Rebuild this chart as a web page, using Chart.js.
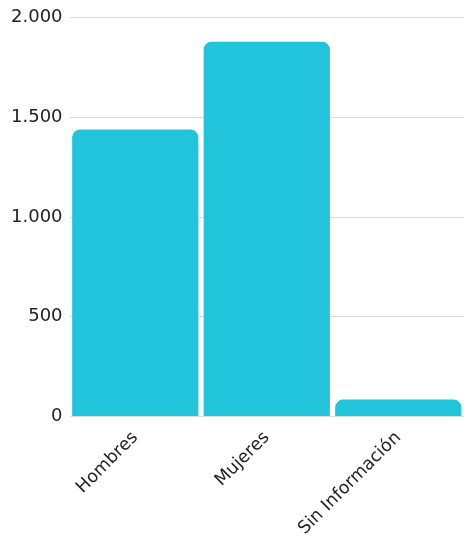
<!DOCTYPE html>
<html>
<head>
<meta charset="utf-8">
<script src="https://cdn.jsdelivr.net/npm/chart.js@4"></script>
<style>
  html, body { margin: 0; padding: 0; background: #fff; }
  #wrap { width: 464px; height: 542px; }
</style>
</head>
<body>
<div id="wrap"><canvas id="grafico"></canvas></div>
<script>
// Datos del gráfico
const categorias = ['Hombres', 'Mujeres', 'Sin Información'];
const valores = [1440, 1880, 85];
const ticksY = [0, 500, 1000, 1500, 2000];

const ctx = document.getElementById('grafico').getContext('2d');

new Chart(ctx, {
    type: 'bar',
    data: {
        labels: categorias,
        datasets: [{
            data: valores,
            backgroundColor: '#22c4dc',
            borderRadius: 8,
            borderSkipped: 'start',
            barPercentage: 0.96,
            categoryPercentage: 1.0
        }]
    },
    options: {
        responsive: true,
        maintainAspectRatio: false,
        animation: false,
        layout: { padding: { top: 14, right: 0, left: 4, bottom: 0 } },
        plugins: {
            legend: { display: false },
            tooltip: { enabled: false }
        },
        scales: {
            x: {
                grid: { display: false },
                border: { display: false },
                ticks: {
                    color: '#222',
                    font: { family: 'DejaVu Sans', size: 17.5 },
                    maxRotation: 45,
                    minRotation: 45
                }
            },
            y: {
                min: 0,
                max: 2000,
                afterBuildTicks: axis => {
                    axis.ticks = ticksY.map(v => ({ value: v }));
                },
                grid: { color: '#d9d9d9', drawTicks: false },
                border: { display: false },
                ticks: {
                    color: '#222',
                    padding: 7,
                    font: { family: 'DejaVu Sans', size: 18 },
                    callback: v => v.toLocaleString('de-DE')
                }
            }
        }
    }
});
</script>
</body>
</html>
